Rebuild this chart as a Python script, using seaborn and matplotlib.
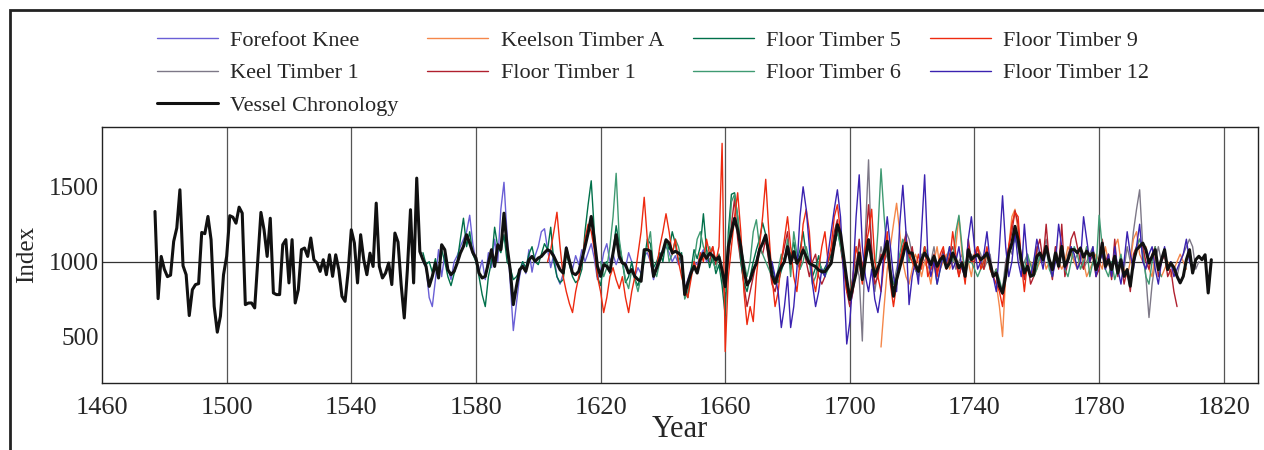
import numpy as np
import pandas as pd
import matplotlib
matplotlib.use("Agg")
import matplotlib.pyplot as plt
import seaborn as sns
from matplotlib.patches import Rectangle

# Ring-width indices (one value per year)
chron_start = 1477
chronology = [
    1335, 753, 1035, 950,
    900, 910, 1135, 1225, 1480, 973, 913, 640, 813, 847,
    853, 1195, 1187, 1302, 1147, 702, 529, 636, 913, 1035,
    1307, 1297, 1257, 1364, 1324, 713, 724, 724, 691, 1010,
    1329, 1213, 1035, 1290, 791, 780, 780, 1113, 1147, 858,
    1147, 724, 813, 1080, 1091, 1035, 1158, 1013, 991, 935,
    1013, 913, 1046, 902, 1046, 946, 769, 735, 935, 1213,
    1124, 858, 1180, 1013, 913, 1057, 968, 1391, 968, 891,
    924, 991, 847, 1191, 1131, 847, 624, 946, 1347, 858,
    1558, 1068, 1013, 968, 835, 902, 991, 891, 1113, 1080,
    946, 913, 935, 991, 1057, 1102, 1180, 1124, 1060, 1024,
    924, 891, 902, 991, 1080, 968, 1113, 1080, 1324, 1102,
    946, 713, 835, 946, 968, 935, 1013, 1035, 1002, 1024,
    1035, 1060, 1080, 1068, 1035, 991, 946, 924, 1091, 1002,
    924, 913, 935, 1013, 1100, 1191, 1302, 1146, 969, 902,
    980, 969, 935, 1058, 1180, 1035, 991, 980, 924, 947,
    902, 880, 869, 1080, 1080, 1069, 902, 958, 1013, 1069,
    1146, 1124, 1058, 1069, 1058, 1035, 780, 858, 924, 969,
    924, 1011, 1056, 1022, 1056, 1040, 1011, 1033, 944, 833,
    1100, 1200, 1289, 1211, 1100, 944, 844, 878, 944, 989,
    1078, 1122, 1178, 1056, 911, 856, 922, 967, 1000, 1100,
    989, 1067, 989, 1022, 1078, 1033, 989, 978, 967, 944,
    933, 933, 960, 989, 1122, 1247, 1189, 1033, 880, 747,
    836, 924, 1058, 880, 1013, 1147, 1013, 902, 958, 1013,
    1058, 1136, 924, 769, 880, 960, 1036, 1124, 1058, 1058,
    980, 935, 1013, 1058, 1024, 980, 1036, 969, 1013, 1036,
    958, 991, 1058, 1013, 958, 991, 902, 1080, 1013, 1036,
    1047, 1013, 1030, 1058, 991, 902, 924, 836, 791, 902,
    1058, 1124, 1236, 1147, 1013, 924, 969, 902, 913, 1036,
    1058, 1013, 1102, 1013, 947, 1058, 969, 1102, 969, 1013,
    1080, 1080, 1060, 1090, 1030, 1070, 1040, 1058, 947, 1000,
    1124, 969, 1013, 947, 1036, 924, 1013, 902, 947, 836,
    1000, 1080, 1102, 1124, 1080, 991, 1036, 1080, 947, 1013,
    1080, 947, 991, 960, 902, 858, 902, 1013, 1080, 924,
    1013, 1036, 1013, 1046, 791, 1013,
]

forefoot_start = 1563
forefoot_knee = [
    1000, 960, 760, 700, 880, 1080, 900, 1050,
    960, 880, 1000, 1040, 1100, 1150, 1200, 1310, 1120, 1000,
    930, 1010, 880, 1060, 960, 1150, 1000, 1350, 1530, 1180,
    860, 540, 720, 900, 1000, 920, 1080, 930, 1040, 1100,
    1200, 1220, 1080, 960, 1050, 900, 850, 920, 1100, 1020,
    950, 1040, 980, 1080, 1000, 1060, 1120, 1020, 880, 940,
    1060, 1120, 1000, 1050, 980, 1040, 1000, 960, 1060, 1000,
    900, 960, 920, 1040, 1060, 1000, 880, 980, 1040, 1080,
    1100, 1060, 1000, 1040, 980, 1020, 820, 880, 950, 1000,
    980, 1040, 1080, 1000, 1020,
]

ft5_start = 1563
floor_timber_5 = [
    1060, 980, 1000, 930, 1020, 900, 1080, 1000,
    900, 840, 920, 1000, 1150, 1290, 1100, 1200, 1050, 1000,
    900, 780, 700, 900, 1000, 1230, 1100, 1060, 1180, 1000,
    960, 880, 900, 940, 1000, 960, 1050, 1100, 1000, 980,
    1050, 1120, 1080, 1230, 1000, 900, 860, 880, 1050, 980,
    900, 860, 880, 950, 1200, 1380, 1540, 1200, 900, 840,
    980, 1000, 920, 1060, 1240, 1120, 1000, 860, 900, 1000,
    880, 840, 920, 1000, 1150, 1120, 960, 1000, 1060, 1000,
    1140, 1080, 1200, 1120, 1000, 1060, 820, 760, 940, 1080,
    1020, 1100, 1320, 1080, 960, 1040, 920, 980, 840, 640,
    1200, 1450, 1460, 1300, 1000, 860, 800, 900, 1000, 1080,
    1150, 1260, 1180, 1040, 980, 880, 860, 940, 1000, 1120,
    1040, 1130, 1000, 1080, 1200, 1040, 1000, 900, 960, 1040,
    920, 960, 1000, 1040, 1100, 1200, 1120, 980, 860, 760,
]

ft9_start = 1603
floor_timber_9 = [
    1000, 1080, 1200, 1330, 1100, 900, 800, 720, 660, 800,
    900, 1000, 1150, 1250, 1200, 1080, 900, 800, 660, 760,
    900, 960, 880, 820, 900, 760, 660, 800, 900, 1050,
    1200, 1430, 1150, 1000, 900, 960, 1100, 1200,
    1320, 1200, 1050, 1150, 1000, 900, 820, 760, 880, 1000,
    940, 1060, 1000, 1150, 1050, 1100, 1000, 1100, 1790, 400,
    900, 1100, 1300, 1460, 1200, 800, 580, 700, 600, 900,
    1100, 1300, 1550, 1200, 900, 700, 800, 1000, 1150, 1300,
    1100, 900, 800, 1000, 1250, 1350, 1200, 900, 800, 950,
    1100, 1200, 1000, 1100, 1300, 1380, 1200, 1000, 800, 760,
    900, 1100, 1000, 850, 1100, 1200, 1350, 1000, 900, 800,
    1000, 1200, 850, 700, 850, 1000, 1100, 1150, 1050, 1000,
    950, 1050, 950, 1100, 900, 950, 1000, 900, 1050, 1100,
    950, 1000, 1200, 1050, 900, 1000, 850, 1100, 1000, 1050,
    1100, 950, 1000, 1100, 950, 900, 850, 800, 700, 900,
    1100, 1250, 1330, 1300, 1000, 800, 1000, 900, 950, 1050,
]

ft1_start = 1655
floor_timber_1 = [
    1000, 1100, 980, 1050, 900, 750, 1000, 1250, 1420, 1150,
    1000, 850, 700, 800, 900, 1000, 1100, 1050, 1150, 1000,
    850, 800, 900, 1000, 1100, 1200, 950, 1050, 1000, 950,
    1100, 1000, 900, 1000, 1050, 900, 850, 900, 1000, 1050,
    1200, 1280, 1100, 950, 800, 700, 800, 950, 1150, 950,
    1100, 1380, 1100, 850, 900, 1050, 1000, 1100, 900, 780,
    900, 1000, 1100, 1180, 1000, 1100, 950, 900, 1000, 1100,
    1000, 950, 1050, 920, 1000, 1080, 950, 1050, 1100, 1000,
    900, 1000, 880, 1150, 1000, 1000, 1100, 1000, 950, 1080,
    1000, 900, 950, 820, 780, 950, 1100, 1200, 1340, 1250,
    1000, 880, 1000, 850, 900, 1080, 1150, 1000, 1250, 1000,
    880, 1100, 950, 1250, 900, 1000, 1150, 1200, 1100, 1000,
    950, 1100, 1000, 1050, 900, 950, 1150, 1000, 1050, 880,
    1150, 900, 1000, 850, 950, 800, 1050, 1100, 1150, 1100,
    1000, 950, 1050, 1100, 900, 1000, 1050, 900, 950, 800,
    700,
]

ft6_start = 1620
floor_timber_6 = [
    1000, 900, 960, 1100, 1300, 1590, 1150, 1000, 880, 820,
    950, 880, 800, 900, 1050, 1100, 1200, 950, 900, 1000,
    1050, 1150, 1000, 1050, 1150, 1100, 1000, 750, 800, 900,
    1000, 1150, 1200, 1100, 1050, 1100, 1000, 950, 1050, 900,
    800, 1100, 1400, 1450, 1300, 1100, 1000, 900, 1000, 1200,
    1280, 1100, 1050, 1000, 950, 900, 850, 950, 1050, 1000,
    1150, 900, 1200, 1050, 950, 1000, 1100, 1000, 850, 900,
    1000, 950, 900, 950, 1000, 1150, 1200, 1100, 1000, 850,
    800, 900, 1100, 1050, 900, 1000, 1100, 1050, 900, 1200,
    1620, 1300, 1050, 950, 850, 900, 1050, 1150, 1100, 1000,
    1050, 950, 900, 1000, 1100, 1050, 950, 1000, 850, 950,
    1050, 1000, 1100, 1000, 1200, 1310, 1100, 900, 1000, 1000,
    950, 900, 950, 1000, 1050, 950, 900, 950, 880, 800,
    950, 1050, 1100, 1150, 1100, 1000, 950, 1050, 980, 900,
    950, 1050, 1000, 1100, 950, 900, 1050, 1000, 1080, 950,
    900, 1000, 1100, 1050, 950, 1000, 1100, 900, 1000, 950,
    1310, 1100, 950, 900, 1000, 880, 950, 1050, 900, 950,
    850, 1000, 1100, 1150, 1050, 900, 850, 1000, 1100, 950,
    900,
]

kt1_start = 1690
keel_timber_1 = [
    1000, 950, 900, 1000, 1050, 1100, 1200, 1150, 1000, 850,
    700, 800, 1000, 900, 470, 1200, 1680, 1000, 800, 950,
    1100, 1000, 1050, 900, 850, 950, 1050, 1000, 1200, 1150,
    1050, 1000, 950, 1050, 1000, 950, 1000, 1100, 950, 1000,
    1050, 950, 1000, 1050, 950, 1000, 1050, 950, 1000, 1050,
    1000, 1100, 1050, 950, 1000, 1050, 900, 950, 850, 820,
    1000, 1100, 1050, 1200, 1100, 950, 1000, 1050, 900, 1000,
    1100, 1000, 1050, 1150, 1000, 950, 1100, 1000, 1050, 950,
    1050, 1100, 1000, 1050, 1100, 950, 1000, 1050, 1100, 950,
    1000, 1050, 950, 1000, 900, 1050, 950, 1000, 950, 1100,
    1000, 1200, 1350, 1480, 1100, 900, 627, 850, 1000, 1100,
    1000, 1050, 950, 1000, 950, 900, 1000, 1050, 1100, 1150,
    1100, 950, 1000,
]

ft12_start = 1675
floor_timber_12 = [
    1000, 900, 800, 560, 700, 900, 560, 700, 950, 1300,
    1500, 1350, 1100, 850, 700, 800, 950, 900, 1050, 1200,
    1350, 1480, 1300, 900, 450, 600, 900, 1300, 1580, 1100,
    900, 800, 950, 750, 660, 800, 1100, 1300, 1100, 900,
    800, 1250, 1510, 1200, 713, 900, 1000, 850, 1200, 1580,
    1050, 900, 1000, 850, 950, 1050, 1000, 1100, 950, 1000,
    1100, 950, 900, 1150, 1300, 1100, 950, 1000, 1050, 1200,
    1000, 900, 800, 1100, 1440, 1100, 900, 1000, 1200, 1000,
    900, 1250, 1000, 900, 1000, 1150, 1050, 950, 1100, 1000,
    900, 1000, 1250, 1100, 950, 1000, 1100, 1050, 950, 1000,
    1300, 1150, 1000, 1100, 900, 1000, 1050, 950, 1050, 900,
    1100, 950, 850, 1000, 1200, 1050, 950, 1100, 1250, 1000,
    950, 1050, 1100, 950, 850, 1000, 1100, 950, 1000, 900,
    950, 1000, 1050, 1150, 1000, 950,
]

ka_start = 1710
keelson_timber_a = [
    430, 700, 950, 1100, 1250, 1390, 1200, 1000, 900, 850,
    950, 1050, 1000, 900, 1000, 950, 850, 1000, 1100, 950,
    1000, 1050, 950, 1000, 1100, 1300, 1050, 950, 1000, 900,
    1050, 1100, 1000, 950, 1050, 1000, 900, 850, 700, 500,
    900, 1100, 1300, 1350, 1200, 1000, 900, 950, 1000, 900,
    950, 1000, 1050, 950, 1000, 900, 1050, 1000, 950, 1000,
    1100, 1050, 1000, 950, 1050, 1000, 900, 950, 1000, 1050,
    1000, 950, 1100, 1000, 900, 1100, 1150, 1000, 950, 900,
    1000, 1150, 1200, 1050, 1000, 1100, 950, 900, 1050, 950,
    900, 950, 1000, 900, 950, 1000, 1050, 1000, 950,
]

series = [
    ("Forefoot Knee", forefoot_start, forefoot_knee, "#6a5fd6"),
    ("Keel Timber 1", kt1_start, keel_timber_1, "#7d7887"),
    ("Keelson Timber A", ka_start, keelson_timber_a, "#f5874a"),
    ("Floor Timber 1", ft1_start, floor_timber_1, "#b0202e"),
    ("Floor Timber 5", ft5_start, floor_timber_5, "#00704a"),
    ("Floor Timber 6", ft6_start, floor_timber_6, "#3f9a72"),
    ("Floor Timber 9", ft9_start, floor_timber_9, "#ee2a10"),
    ("Floor Timber 12", ft12_start, floor_timber_12, "#3a22b0"),
]

sns.set_style("white")
plt.rcParams["font.family"] = ["Liberation Serif", "DejaVu Serif"]

fig = plt.figure(figsize=(12.64, 4.5), dpi=100)
ax = fig.add_axes([0.0807, 0.149, 0.9146, 0.569])

handles = {}
for name, start, vals, col in series:
    df = pd.DataFrame({"Year": np.arange(start, start + len(vals)), "Index": vals})
    sns.lineplot(data=df, x="Year", y="Index", color=col, linewidth=1.0, ax=ax)
    handles[name] = ax.lines[-1]

chron_df = pd.DataFrame({"Year": np.arange(chron_start, chron_start + len(chronology)),
                         "Index": chronology})
sns.lineplot(data=chron_df, x="Year", y="Index", color="#111111", linewidth=2.2, ax=ax)
handles["Vessel Chronology"] = ax.lines[-1]

ax.set_xlim(1460, 1831)
ax.set_ylim(190, 1900)
ax.set_xticks(np.arange(1460, 1821, 40))
ax.set_xticks(np.arange(1480, 1821, 40), minor=True)
ax.set_yticks([500, 1000, 1500])
ax.tick_params(axis="both", which="both", direction="in", labelsize=19, color="#333333")
ax.tick_params(axis="y", labelsize=18)
ax.tick_params(axis="x", which="major", length=0, pad=10)
ax.tick_params(axis="x", which="minor", length=5)
ax.tick_params(axis="y", which="major", length=5, pad=2)
for xv in np.arange(1500, 1821, 40):
    ax.axvline(xv, color="#555555", lw=0.9, zorder=0)
ax.axhline(1000, color="#333333", lw=0.9, zorder=0)
for sp in ax.spines.values():
    sp.set_color("#222222")
    sp.set_linewidth(1.0)
ax.set_xlabel("Year", fontsize=22, labelpad=-3)
ax.set_ylabel("Index", fontsize=18, labelpad=8)

order = ["Forefoot Knee", "Keel Timber 1", "Vessel Chronology",
         "Keelson Timber A", "Floor Timber 1",
         "Floor Timber 5", "Floor Timber 6",
         "Floor Timber 9", "Floor Timber 12"]
fig.legend([handles[n] for n in order], order, loc="upper left",
           bbox_to_anchor=(0.124, 0.933), ncol=4, frameon=False, fontsize=16,
           handlelength=2.75, handletextpad=0.55, columnspacing=1.3,
           labelspacing=0.55, borderpad=0, borderaxespad=0)

fig.patches.append(Rectangle((10 / 1264, -0.1), 1.2, 1.1 - 10 / 450,
                             transform=fig.transFigure, fill=False,
                             edgecolor="#222222", lw=2.0))

fig.savefig("out.png", dpi=100, facecolor="white")
